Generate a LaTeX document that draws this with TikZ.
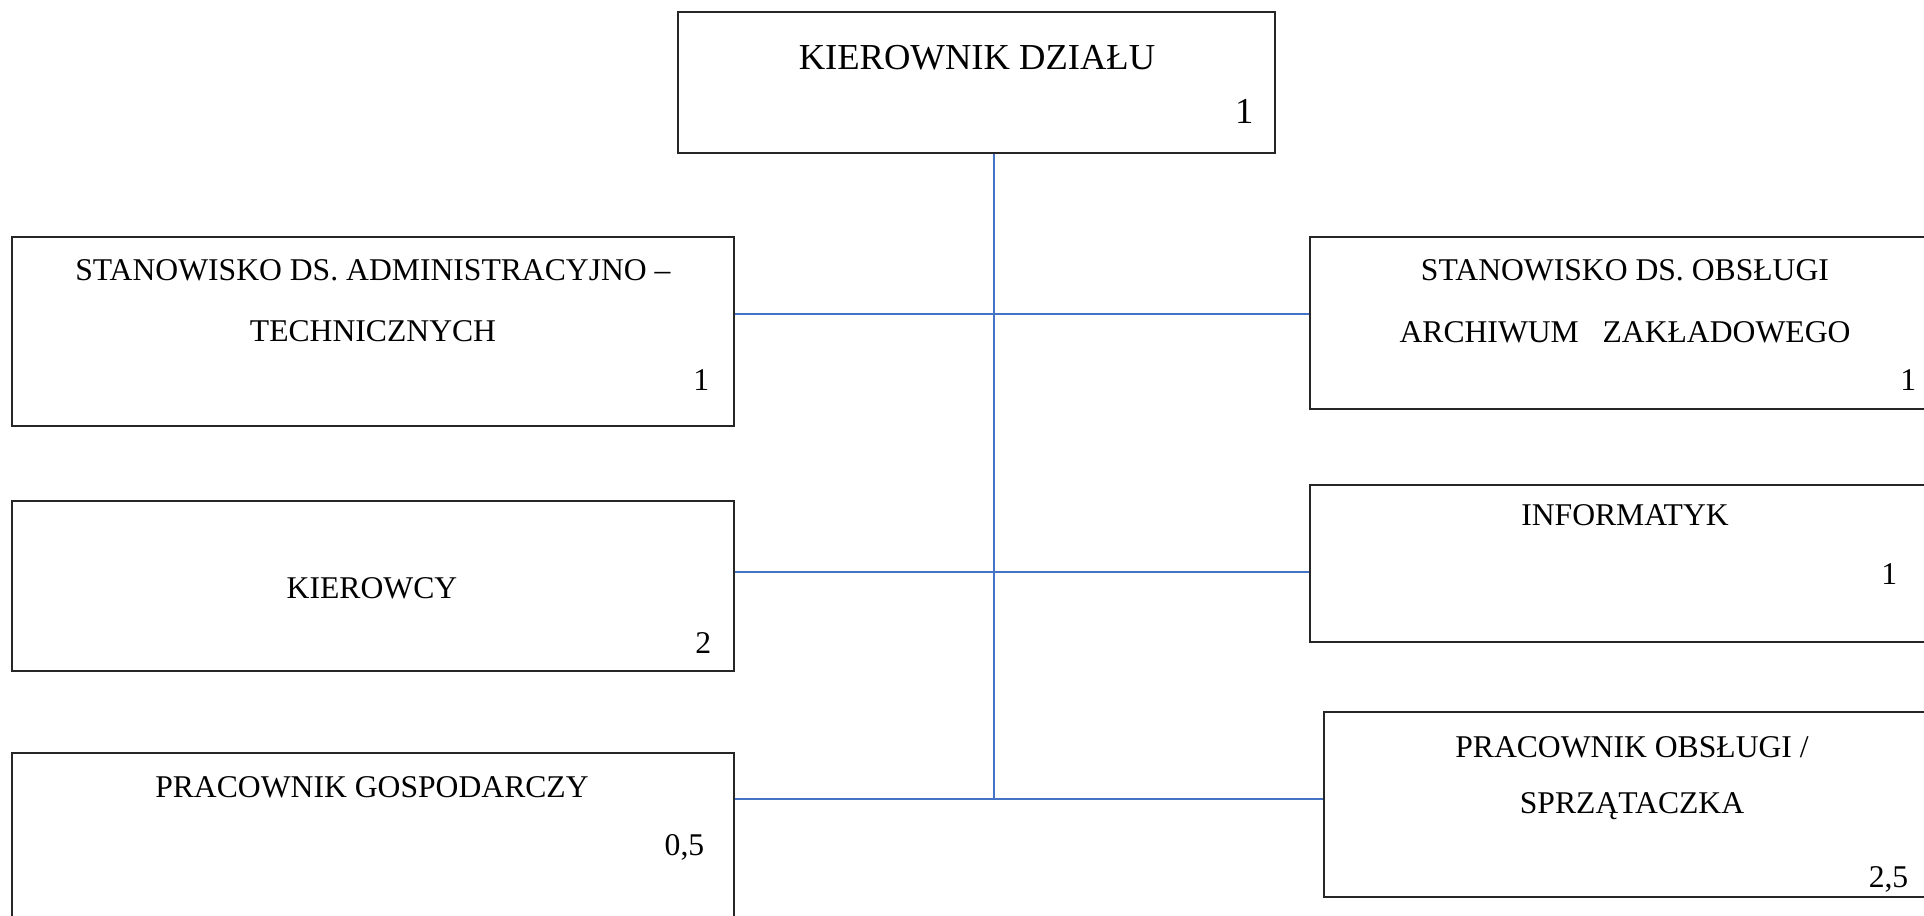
\documentclass[tikz,border=0pt]{standalone}
\usepackage{fontspec}
\setmainfont{Liberation Serif}
\definecolor{linkblue}{RGB}{68,114,196}

\begin{document}
\begin{tikzpicture}[x=0.01cm,y=-0.01cm,
			    box/.style={draw=black!85,line width=0.6pt,inner sep=0mm},
			    txt/.style={inner sep=0mm,font=\fontsize{9}{11}\selectfont},
			    big/.style={inner sep=0mm,font=\fontsize{10.4}{12}\selectfont},
			    edge/.style={draw=linkblue,line width=0.75pt},
			]
	    \useasboundingbox (0,0) rectangle (1924,915);

	    %head
	    \node[box,minimum width=5.97cm,minimum height=1.41cm] (head) at (976.5,82.5) {};
	    \node[big,anchor=base] (headT) at (977,69) {KIEROWNIK DZIAŁU};
	    \node[big,anchor=base east] (headN) at (1254,123) {1};

	    %left column
	    \node[box,minimum width=7.22cm,minimum height=1.89cm] (adm) at (373,331.5) {};
	    \node[txt,anchor=base] (admT1) at (373,280) {STANOWISKO DS. ADMINISTRACYJNO --};
	    \node[txt,anchor=base] (admT2) at (373,341) {TECHNICZNYCH};
	    \node[txt,anchor=base east] (admN) at (710,390) {1};

	    \node[box,minimum width=7.22cm,minimum height=1.70cm] (kier) at (373,586) {};
	    \node[txt,anchor=base] (kierT) at (372,598) {KIEROWCY};
	    \node[txt,anchor=base east] (kierN) at (712,653) {2};

	    \node[box,minimum width=7.22cm,minimum height=1.77cm] (gosp) at (373,841.5) {};
	    \node[txt,anchor=base] (gospT) at (372,797) {PRACOWNIK GOSPODARCZY};
	    \node[txt,anchor=base east] (gospN) at (705,855) {0,5};

	    %right column
	    \node[box,minimum width=6.30cm,minimum height=1.72cm] (arch) at (1625,323) {};
	    \node[txt,anchor=base] (archT1) at (1625,280) {STANOWISKO DS. OBSŁUGI};
	    \node[txt,anchor=base] (archT2) at (1625,342) {ARCHIWUM\ \ \ ZAKŁADOWEGO};
	    \node[txt,anchor=base east] (archN) at (1917,390) {1};

	    \node[box,minimum width=6.30cm,minimum height=1.57cm] (info) at (1625,563.5) {};
	    \node[txt,anchor=base] (infoT) at (1625,525) {INFORMATYK};
	    \node[txt,anchor=base east] (infoN) at (1898,584) {1};

	    \node[box,minimum width=6.16cm,minimum height=1.85cm] (sprz) at (1632,804.5) {};
	    \node[txt,anchor=base] (sprzT1) at (1632,757) {PRACOWNIK OBSŁUGI /};
	    \node[txt,anchor=base] (sprzT2) at (1632,813) {SPRZĄTACZKA};
	    \node[txt,anchor=base east] (sprzN) at (1909,887) {2,5};

	    %trunk
	    \coordinate (row1) at (994,314);
	    \coordinate (row2) at (994,572);
	    \coordinate (row3) at (994,799);
	    \draw [edge] (head.south -| row3) -- (row3);

	    %branches
	    \draw [edge] (adm.east |- row1) -- (arch.west |- row1);
	    \draw [edge] (kier.east |- row2) -- (info.west |- row2);
	    \draw [edge] (gosp.east |- row3) -- (sprz.west |- row3);
	\end{tikzpicture}
\end{document}
